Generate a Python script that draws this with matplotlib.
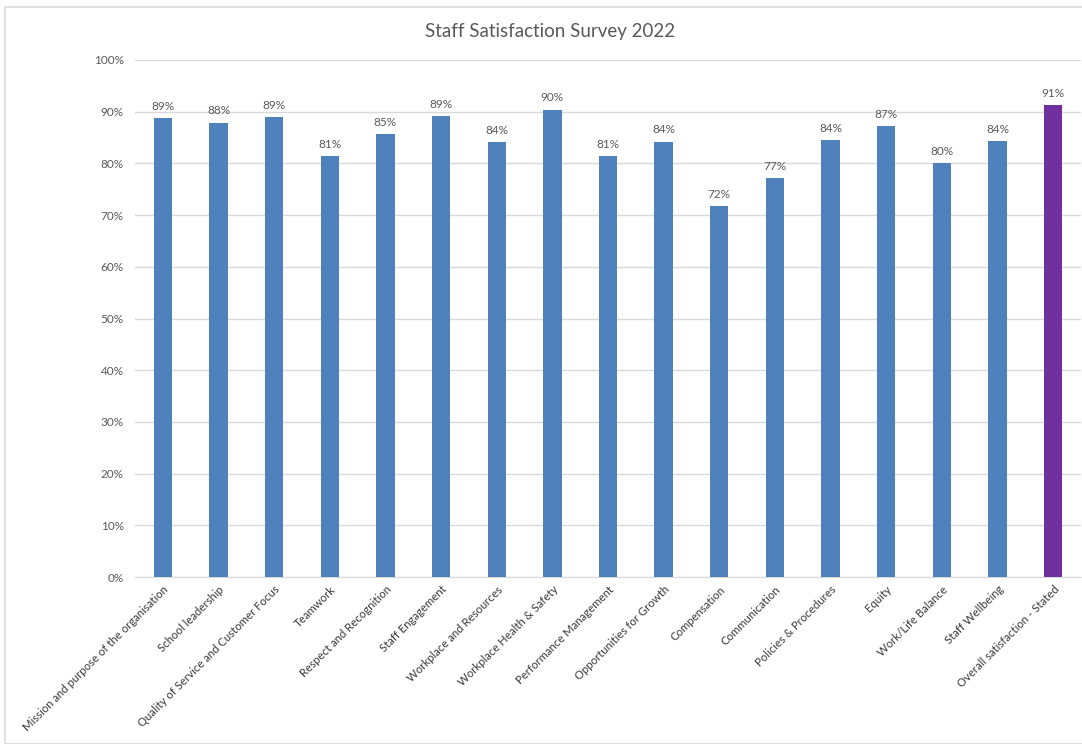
import matplotlib.pyplot as plt
from matplotlib.patches import Rectangle

# Data
categories = [
    "Mission and purpose of the organisation",
    "School leadership",
    "Quality of Service and Customer Focus",
    "Teamwork",
    "Respect and Recognition",
    "Staff Engagement",
    "Workplace and Resources",
    "Workplace Health & Safety",
    "Performance Management",
    "Opportunities for Growth",
    "Compensation",
    "Communication",
    "Policies & Procedures",
    "Equity",
    "Work/Life Balance",
    "Staff Wellbeing",
    "Overall satisfaction - Stated",
]
values = [88.8, 87.9, 89.0, 81.4, 85.6, 89.2, 84.1, 90.4, 81.4, 84.2,
          71.7, 77.2, 84.5, 87.2, 80.1, 84.3, 91.3]
labels = ["89%", "88%", "89%", "81%", "85%", "89%", "84%", "90%", "81%", "84%",
          "72%", "77%", "84%", "87%", "80%", "84%", "91%"]
y_ticks = [0, 10, 20, 30, 40, 50, 60, 70, 80, 90, 100]

BLUE = "#4F81BD"
PURPLE = "#7030A0"
TEXT = "#595959"
GRID = "#D9D9D9"

plt.rcParams['font.family'] = ['Lato', 'DejaVu Sans']

fig = plt.figure(figsize=(10.82, 7.44), dpi=100)
ax = fig.add_axes([135 / 1082, 1 - 577 / 744, (1081 - 135) / 1082, (577 - 60) / 744])

# chart frame
fig.patches.append(Rectangle((5 / 1082, 0), 1.2, 1 - 7 / 744, transform=fig.transFigure,
                             fill=False, edgecolor=GRID, linewidth=1.2))

x = list(range(len(categories)))
colors = [BLUE] * (len(categories) - 1) + [PURPLE]
bars = ax.bar(x, values, width=0.33, color=colors, zorder=3)

for xi, v, lab in zip(x, values, labels):
    ax.text(xi, v + 1.2, lab, ha="center", va="bottom", fontsize=8.5, color=TEXT)

ax.set_xlim(-0.5, len(categories) - 0.5)
ax.set_ylim(0, 100)
ax.set_yticks(y_ticks)
ax.set_yticklabels([f"{t}%" for t in y_ticks], fontsize=8.5, color=TEXT)
ax.set_xticks(x)
ax.set_xticklabels(categories, rotation=45, ha="right", rotation_mode="anchor",
                   fontsize=8.2, color="#3A3A3A")
ax.tick_params(axis="both", length=0, pad=8)
ax.tick_params(axis="x", pad=5)
ax.grid(axis="y", color=GRID, linewidth=1, zorder=0)
for s in ["top", "right", "left"]:
    ax.spines[s].set_visible(False)
ax.spines["bottom"].set_color(GRID)

fig.text(550 / 1082, 1 - 31 / 744, "Staff Satisfaction Survey 2022", ha="center", va="center",
         fontsize=13.5, color=TEXT)

fig.savefig("out.png", dpi=100)
